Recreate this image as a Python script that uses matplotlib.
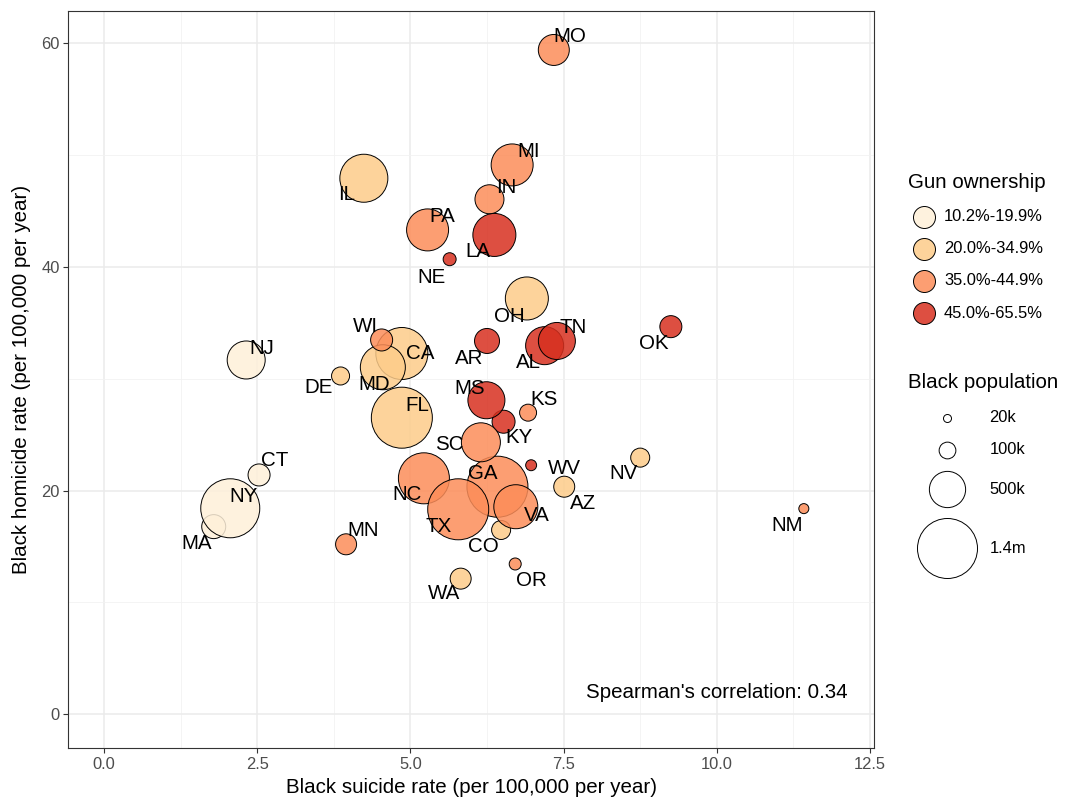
import matplotlib
matplotlib.use("Agg")
import matplotlib.pyplot as plt
from matplotlib.ticker import FixedLocator
import numpy as np

# ---------------- data ----------------
states = ["AL", "AR", "AZ", "CA", "CO", "CT", "DE", "FL", "GA", "IL", "IN", "KS",
          "KY", "LA", "MA", "MD", "MI", "MN", "MO", "MS", "NC", "NE", "NJ", "NM",
          "NV", "NY", "OH", "OK", "OR", "PA", "SC", "TN", "TX", "VA", "WA", "WI", "WV"]
suicide_rate = [7.19, 6.25, 7.51, 4.86, 6.48, 2.53, 3.86, 4.86, 6.42, 4.24, 6.29, 6.92,
                6.52, 6.37, 1.79, 4.55, 6.66, 3.95, 7.34, 6.24, 5.22, 5.64, 2.32, 11.42,
                8.75, 2.06, 6.90, 9.25, 6.71, 5.28, 6.15, 7.39, 5.78, 6.72, 5.82, 4.53, 6.97]
homicide_rate = [32.96, 33.38, 20.35, 32.26, 16.48, 21.40, 30.25, 26.52, 20.35, 47.93, 46.05, 26.97,
                 26.16, 42.86, 16.78, 31.03, 49.12, 15.20, 59.40, 28.08, 21.10, 40.69, 31.68, 18.39,
                 22.95, 18.42, 37.18, 34.66, 13.44, 43.31, 24.32, 33.38, 18.33, 18.56, 12.13, 33.47, 22.27]
# Black population (thousands)
black_pop_k = [551, 232, 161, 1047, 131, 178, 117, 1448, 1448, 889, 316, 103,
               195, 710, 213, 779, 676, 161, 362, 522, 1006, 58, 551, 33,
               131, 1353, 710, 178, 49, 676, 581, 522, 1448, 744, 161, 178, 40]
# gun ownership class index (0..3)
gun_class = [3, 3, 1, 1, 1, 0, 1, 1, 2, 1, 2, 2,
             3, 3, 0, 1, 2, 2, 2, 3, 2, 3, 0, 2,
             1, 0, 1, 3, 2, 2, 2, 3, 2, 2, 1, 2, 3]

gun_labels = ["10.2%-19.9%", "20.0%-34.9%", "35.0%-44.9%", "45.0%-65.5%"]
pop_legend_k = [20, 100, 500, 1400]
pop_legend_labels = ["20k", "100k", "500k", "1.4m"]
x_ticks = [0.0, 2.5, 5.0, 7.5, 10.0, 12.5]
y_ticks = [0, 20, 40, 60]
spearman = 0.34

# ---------------- style ----------------
palette = ["#FEF0D9", "#FDCC8A", "#FC8D59", "#D7301F"]
ALPHA = 0.85
DPI = 100
PX2PT = 72.0 / DPI
BIG = 14.8
SMALL = 11.9

# label offsets in pixels (dx right, dy up)
label_off = {
    "MO": (16, 13), "MI": (16, 13), "IN": (17, 12), "PA": (15, 13), "LA": (-16, -17),
    "NE": (-18, -18), "IL": (-17, -16), "OH": (-17, -18), "WI": (-16, 13), "CA": (18, 0),
    "AR": (-18, -18), "AL": (-16, -17), "TN": (16, 13), "MD": (-9, -17), "DE": (-22, -12),
    "MS": (-17, 12), "KS": (16, 13), "FL": (15, 12), "KY": (15, -16), "SC": (-32, -2),
    "GA": (-15, 13), "WV": (33, -3), "NC": (-17, -16), "AZ": (19, -17), "VA": (21, -9),
    "TX": (-20, -17), "CO": (-18, -17), "MN": (17, 14), "OR": (16, -17), "WA": (-17, -15),
    "NJ": (16, 11), "CT": (16, 14), "NY": (13, 12), "MA": (-17, -17), "OK": (-17, -17),
    "NV": (-17, -16), "NM": (-17, -17),
}


def diam_px(pop_k):
    return 0.96 + 1.578 * np.sqrt(np.asarray(pop_k, dtype=float))


def marker_area(pop_k):
    return (diam_px(pop_k) * PX2PT) ** 2


plt.rcParams["font.family"] = ["Liberation Sans", "DejaVu Sans"]

fig = plt.figure(figsize=(10.8, 8.1), dpi=DPI)
W, H = 1080, 810
L, R, T, B = 68.3, 874.3, 10.7, 748.3
ax = fig.add_axes([L / W, (H - B) / H, (R - L) / W, (B - T) / H])

ax.set_xlim(-0.583, 12.57)
ax.set_ylim(-3.04, 62.91)

ax.set_xticks(x_ticks)
ax.set_xticklabels([f"{v:.1f}" for v in x_ticks])
ax.set_yticks(y_ticks)
ax.xaxis.set_minor_locator(FixedLocator([(a + b) / 2 for a, b in zip(x_ticks[:-1], x_ticks[1:])]))
ax.yaxis.set_minor_locator(FixedLocator([(a + b) / 2 for a, b in zip(y_ticks[:-1], y_ticks[1:])]))
ax.grid(which="major", color="#EBEBEB", linewidth=1.1, zorder=0)
ax.grid(which="minor", color="#F2F2F2", linewidth=0.6, zorder=0)
ax.set_axisbelow(True)
ax.tick_params(which="major", length=3.3, width=0.8, color="#333333",
               labelsize=SMALL, labelcolor="#4D4D4D", pad=3)
ax.tick_params(which="minor", length=0)
for s in ax.spines.values():
    s.set_color("#333333")
    s.set_linewidth(0.8)

colors = [palette[c] for c in gun_class]
coll = ax.scatter(suicide_rate, homicide_rate, s=marker_area(black_pop_k), c=colors,
                  edgecolors="black", linewidths=0.7, zorder=3)
# apply fill alpha only (edges stay solid)
fc = coll.get_facecolors()
fc[:, 3] = ALPHA
coll.set_facecolors(fc)

for st, xv, yv in zip(states, suicide_rate, homicide_rate):
    dx, dy = label_off[st]
    ax.annotate(st, (xv, yv), xytext=(dx * PX2PT, dy * PX2PT), textcoords="offset points",
                ha="center", va="center", fontsize=BIG, color="black", zorder=5)

ax.text(0.967, 0.076, f"Spearman's correlation: {spearman:.2f}", transform=ax.transAxes,
        ha="right", va="center", fontsize=BIG, color="black")

ax.set_xlabel("Black suicide rate (per 100,000 per year)", fontsize=BIG, labelpad=4)
ax.set_ylabel("Black homicide rate (per 100,000 per year)", fontsize=BIG, labelpad=7)

# ---------------- legends (drawn in pixel space) ----------------
lax = fig.add_axes([0, 0, 1, 1], facecolor="none")
lax.set_xlim(0, W)
lax.set_ylim(H, 0)
lax.axis("off")

lax.text(908, 182, "Gun ownership", fontsize=BIG, ha="left", va="center")
gun_key_y = [216.7, 248.5, 280.8, 313.3]
for i, (lbl, yk) in enumerate(zip(gun_labels, gun_key_y)):
    fcol = matplotlib.colors.to_rgba(palette[i], ALPHA)
    lax.scatter([923.7], [yk], s=(22 * PX2PT) ** 2, facecolors=[fcol],
                edgecolors="black", linewidths=0.7)
    lax.text(944, yk, lbl, fontsize=SMALL, ha="left", va="center")

lax.text(908, 383, "Black population", fontsize=BIG, ha="left", va="center")
pop_key_y = [417.7, 450, 489, 548.3]
for pk, lbl, yk in zip(pop_legend_k, pop_legend_labels, pop_key_y):
    lax.scatter([946.7], [yk], s=marker_area(pk), facecolors="white",
                edgecolors="black", linewidths=0.7)
    lax.text(989.3, yk, lbl, fontsize=SMALL, ha="left", va="center")

fig.savefig("out.png", dpi=DPI)
